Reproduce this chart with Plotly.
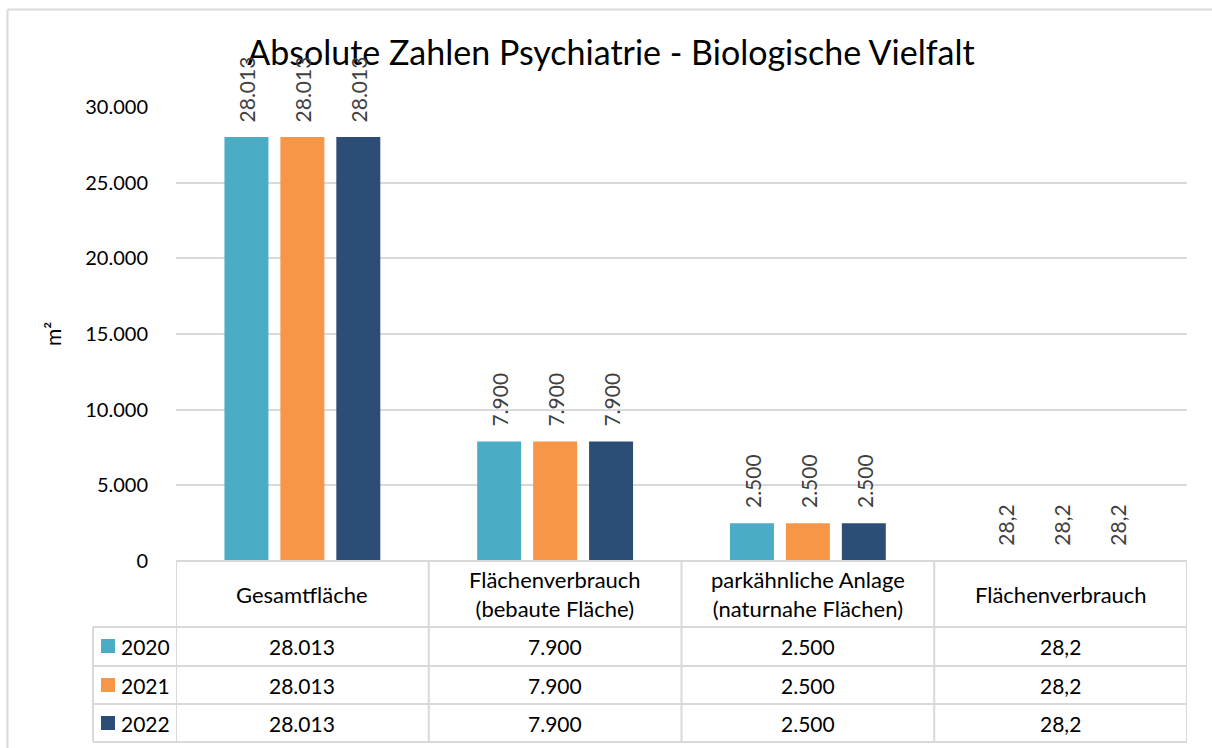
import plotly.graph_objects as go

# ---------------- data ----------------
categories = ["Gesamtfläche", "Flächenverbrauch (bebaute Fläche)",
              "parkähnliche Anlage (naturnahe Flächen)", "Flächenverbrauch"]
header_labels = ["Gesamtfläche", "Flächenverbrauch<br>(bebaute Fläche)",
                 "parkähnliche Anlage<br>(naturnahe Flächen)", "Flächenverbrauch"]
years = ["2020", "2021", "2022"]
values_2020 = [28013, 7900, 2500, 28.2]
values_2021 = [28013, 7900, 2500, 28.2]
values_2022 = [28013, 7900, 2500, 28.2]
series_values = [values_2020, values_2021, values_2022]
colors = ["#4BACC6", "#F79646", "#2C4D75"]
y_ticks = [0, 5000, 10000, 15000, 20000, 25000, 30000]

title_text = "Absolute Zahlen Psychiatrie - Biologische Vielfalt"
y_title = "m²"

FONT = "Lato"
GRID = "#D9D9D9"

OFF = 0  # page body margin (set to 0 by the post script)
W, H = 1212 - OFF, 748 - OFF
PL, PR, PT, PB = 176, 1187, 107, 561  # plot area in page pixels
L, R, T, B = PL - OFF, W - (PR - OFF), PT - OFF, H - (PB - OFF)
PW, PH = PR - PL, PB - PT


def de(v):
    if float(v).is_integer():
        return f"{int(v):,}".replace(",", ".")
    return f"{v:.1f}".replace(".", ",")


def py(p):  # page pixel y -> paper y
    return (PB - p) / PH


def px(p):  # page pixel x -> paper x
    return (p - PL) / PW


fig = go.Figure()
for yr, vals, col in zip(years, series_values, colors):
    fig.add_trace(go.Bar(name=yr, x=categories, y=vals, marker_color=col,
                         marker_line_width=0, showlegend=False, hoverinfo="skip"))

annotations = []
# rotated data labels above bars
for i, (vals, col) in enumerate(zip(series_values, colors)):
    for c, v in zip(categories, vals):
        annotations.append(dict(x=c, y=v, xref="x", yref="y", text=de(v),
                                textangle=-90, showarrow=False, xanchor="center",
                                yanchor="bottom", xshift=(i - 1) * 56, yshift=13,
                                font=dict(family=FONT, size=21, color="#404040")))

# table header
for c, lab in zip(categories, header_labels):
    annotations.append(dict(x=c, y=py(594), xref="x", yref="paper", text=lab,
                            showarrow=False, xanchor="center", yanchor="middle",
                            font=dict(family=FONT, size=22, color="#000000")))

row_centers = [646, 685, 723]
shapes = []
for yr, vals, col, rc in zip(years, series_values, colors, row_centers):
    for c, v in zip(categories, vals):
        annotations.append(dict(x=c, y=py(rc), xref="x", yref="paper", text=de(v),
                                showarrow=False, xanchor="center", yanchor="middle",
                                font=dict(family=FONT, size=21, color="#000000")))
    annotations.append(dict(x=px(119), y=py(rc), xref="paper", yref="paper", text=yr,
                            showarrow=False, xanchor="left", yanchor="middle",
                            font=dict(family=FONT, size=21, color="#000000")))
    shapes.append(dict(type="rect", xref="paper", yref="paper",
                       x0=px(101), x1=px(115), y0=py(rc + 7), y1=py(rc - 7),
                       fillcolor=col, line_width=0))

# y-axis title
annotations.append(dict(x=px(52), y=py(334), xref="paper", yref="paper", text=y_title,
                        textangle=-90, showarrow=False, xanchor="center", yanchor="middle",
                        font=dict(family=FONT, size=21, color="#000000")))

line = dict(color=GRID, width=2)
# outer chart border (top and left edges; the rest lies outside the picture)
shapes.append(dict(type="line", xref="paper", yref="paper", x0=px(7.5), x1=px(1212),
                   y0=py(9.5), y1=py(9.5), line=line, layer="below"))
shapes.append(dict(type="line", xref="paper", yref="paper", x0=px(7.5), x1=px(7.5),
                   y0=py(9.5), y1=py(748), line=line, layer="below"))
# table grid: horizontal lines
shapes.append(dict(type="line", xref="paper", yref="paper", x0=0, x1=1, y0=0, y1=0, line=line))
for yy in [627, 666, 704, 742]:
    shapes.append(dict(type="line", xref="paper", yref="paper", x0=px(93), x1=1,
                       y0=py(yy), y1=py(yy), line=line))
# vertical lines at category boundaries
for k in range(len(categories) + 1):
    shapes.append(dict(type="line", xref="x", yref="paper", x0=k - 0.5, x1=k - 0.5,
                       y0=py(742), y1=0, line=line))
shapes.append(dict(type="line", xref="paper", yref="paper", x0=px(93), x1=px(93),
                   y0=py(742), y1=py(627), line=line))

fig.update_layout(
    width=W, height=H,
    margin=dict(l=L, r=R, t=T, b=B, autoexpand=False),
    paper_bgcolor="white", plot_bgcolor="white",
    separators=",.",
    barmode="group", bargap=0.336, bargroupgap=0.214,
    title=dict(text=title_text, x=(611 - OFF) / W, xref="container", xanchor="center",
               y=1 - (53 - OFF) / H, yref="container", yanchor="middle",
               font=dict(family=FONT, size=34, color="#000000")),
    font=dict(family=FONT, color="#000000"),
    xaxis=dict(showticklabels=False, showgrid=False, zeroline=False, showline=False,
               range=[-0.5, len(categories) - 0.5], fixedrange=True),
    yaxis=dict(range=[0, 30000], tickvals=y_ticks, tickformat=",d",
               showgrid=True, gridcolor=GRID, gridwidth=1.5, zeroline=False,
               showline=False, ticks="", ticklabelstandoff=27,
               tickfont=dict(family=FONT, size=20, color="#000000")),
    annotations=annotations, shapes=shapes,
)

fig.write_html("out.html",
               config={"displayModeBar": False},
               post_script="document.body.style.margin='0';"
                           "document.documentElement.style.overflow='hidden';"
                           "document.body.style.overflow='hidden';")
